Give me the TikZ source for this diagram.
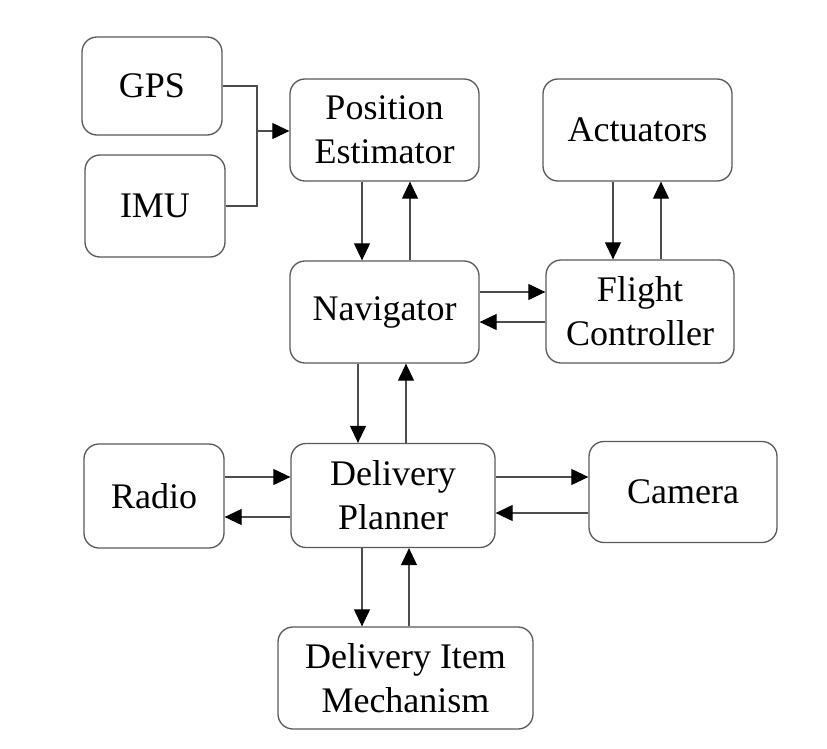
\documentclass[tikz,border=0pt]{standalone}
\usepackage{fontspec}
\setmainfont{Liberation Serif}
\usetikzlibrary{arrows.meta}
\begin{document}
\begin{tikzpicture}[x=1pt,y=-1pt,
  blk/.style={draw=black!65, line width=1.3pt, rounded corners=15pt, align=center,
    inner sep=0pt, font=\fontsize{36}{44}\selectfont, text=black},
  conn/.style={draw=black!70, line width=1.1pt},
  arr/.style={conn, -{Triangle[length=17pt,width=16pt,color=black,fill=black]}}]
\useasboundingbox (0,0) rectangle (827,749);
\node[blk, minimum width=140pt, minimum height=98pt]  (gps) at (152,86) {GPS};
\node[blk, minimum width=140pt, minimum height=102pt] (imu) at (155,206) {IMU};
\node[blk, minimum width=189pt, minimum height=102pt] (pe)  at (384.5,130) {Position\\Estimator};
\node[blk, minimum width=189pt, minimum height=102pt] (act) at (637.5,130) {Actuators};
\node[blk, minimum width=189pt, minimum height=102pt] (nav) at (384.5,312) {Navigator};
\node[blk, minimum width=188pt, minimum height=103pt] (fc)  at (640,311.5) {Flight\\Controller};
\node[blk, minimum width=140pt, minimum height=104pt] (radio) at (154,496) {Radio};
\node[blk, minimum width=204pt, minimum height=104pt] (dp)  at (393,495.5) {Delivery\\Planner};
\node[blk, minimum width=188pt, minimum height=101pt] (cam) at (683,492) {Camera};
\node[blk, minimum width=255pt, minimum height=102pt] (dim) at (405.5,678) {Delivery Item\\Mechanism};
% GPS / IMU to Position Estimator
\coordinate (j) at (257,131);
\draw[conn] (gps.east) -- (gps.east -| j) -- (j);
\draw[conn] (imu.east) -- (imu.east -| j) -- (j);
\draw[arr] (j) -- (j -| pe.west);
% PE <-> Nav
\draw[arr] ([xshift=-22.5pt]pe.south) -- ([xshift=-22.5pt]nav.north);
\draw[arr] ([xshift=25.5pt]nav.north) -- ([xshift=25.5pt]pe.south);
% Actuators <-> FC
\draw[arr] ([xshift=-24.5pt]act.south) -- ([xshift=-27pt]fc.north);
\draw[arr] ([xshift=21pt]fc.north) -- ([xshift=23.5pt]act.south);
% Nav <-> FC
\draw[arr] ([yshift=20pt]nav.east) -- ([yshift=20pt]nav.east -| fc.west);
\draw[arr] ([yshift=-10pt]nav.east -| fc.west) -- ([yshift=-10pt]nav.east);
% Nav <-> DP
\draw[arr] ([xshift=-26.5pt]nav.south) -- ([xshift=-35pt]dp.north);
\draw[arr] ([xshift=13pt]dp.north) -- ([xshift=21.5pt]nav.south);
% Radio <-> DP
\draw[arr] ([yshift=19pt]radio.east) -- ([yshift=19pt]radio.east -| dp.west);
\draw[arr] ([yshift=-21pt]radio.east -| dp.west) -- ([yshift=-21pt]radio.east);
% DP <-> Camera
\draw[arr] ([yshift=18.5pt]dp.east) -- ([yshift=18.5pt]dp.east -| cam.west);
\draw[arr] ([yshift=-17.5pt]dp.east -| cam.west) -- ([yshift=-17.5pt]dp.east);
% DP <-> DIM
\draw[arr] ([xshift=-31pt]dp.south) -- ([xshift=-43.5pt]dim.north);
\draw[arr] ([xshift=3.5pt]dim.north) -- ([xshift=16pt]dp.south);
\end{tikzpicture}
\end{document}
